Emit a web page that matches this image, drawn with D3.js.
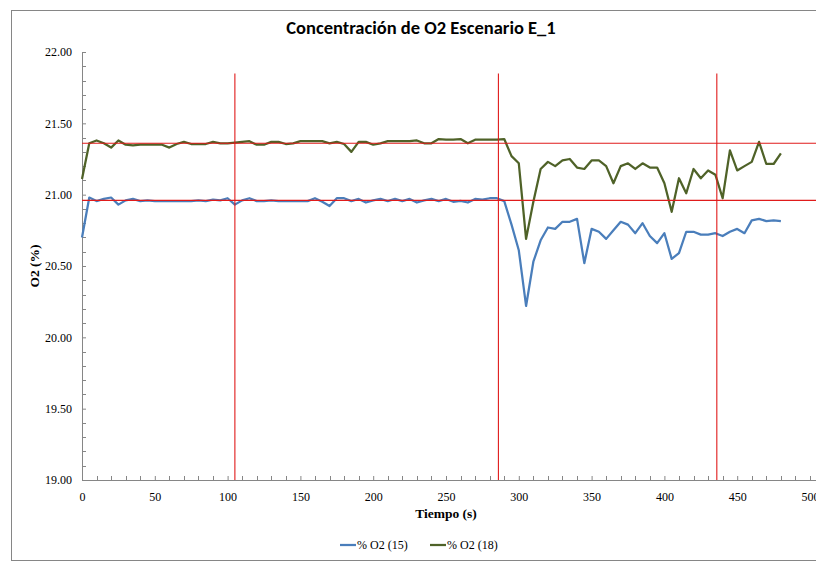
<!DOCTYPE html>
<html>
<head>
<meta charset="utf-8">
<script src="https://cdn.jsdelivr.net/npm/d3@7"></script>
<style>
  html, body { margin: 0; padding: 0; background: #fff; }
  svg { display: block; }
</style>
</head>
<body>
<svg id="chart" width="816" height="562"></svg>
<script>
// ---------- data ----------
const times = [0,5,10,15,20,25,30,35,40,45,50,55,60,65,70,75,80,85,90,95,
  100,105,110,115,120,125,130,135,140,145,150,155,160,165,170,175,180,185,190,195,
  200,205,210,215,220,225,230,235,240,245,250,255,260,265,270,275,280,285,290,295,
  300,305,310,315,320,325,330,335,340,345,350,355,360,365,370,375,380,385,390,395,
  400,405,410,415,420,425,430,435,440,445,450,455,460,465,470,475,480];

const o2_15 = [20.70,20.98,20.955,20.97,20.98,20.93,20.96,20.97,20.955,20.96,
  20.955,20.955,20.955,20.955,20.955,20.955,20.96,20.955,20.965,20.96,
  20.975,20.93,20.96,20.975,20.955,20.955,20.96,20.955,20.955,20.955,
  20.955,20.955,20.975,20.95,20.92,20.975,20.975,20.955,20.97,20.945,
  20.96,20.97,20.955,20.97,20.955,20.97,20.945,20.96,20.97,20.955,
  20.97,20.95,20.956,20.945,20.97,20.965,20.975,20.975,20.955,20.79,
  20.61,20.22,20.53,20.68,20.77,20.76,20.81,20.81,20.83,20.52,
  20.76,20.74,20.69,20.75,20.81,20.79,20.73,20.80,20.71,20.66,
  20.73,20.55,20.59,20.74,20.74,20.72,20.72,20.73,20.71,20.74,
  20.76,20.73,20.82,20.83,20.815,20.82,20.815];

const o2_18 = [21.11,21.36,21.38,21.36,21.33,21.38,21.35,21.345,21.35,21.35,
  21.35,21.35,21.33,21.355,21.37,21.355,21.355,21.355,21.37,21.36,
  21.36,21.365,21.37,21.375,21.35,21.35,21.37,21.37,21.355,21.36,
  21.375,21.375,21.375,21.375,21.36,21.37,21.355,21.30,21.37,21.37,
  21.35,21.36,21.375,21.375,21.375,21.375,21.38,21.36,21.36,21.39,
  21.385,21.385,21.39,21.36,21.385,21.385,21.385,21.385,21.39,21.27,
  21.22,20.69,20.95,21.18,21.23,21.20,21.24,21.25,21.19,21.18,
  21.24,21.24,21.20,21.08,21.20,21.22,21.18,21.22,21.19,21.19,
  21.08,20.88,21.115,21.01,21.18,21.115,21.17,21.14,20.975,21.31,
  21.17,21.20,21.23,21.37,21.215,21.215,21.29];

const seriesNames = ["% O2 (15)", "% O2 (18)"];
const seriesColors = ["#4A7EBB", "#4F6228"];

const refLevels = [21.36, 20.96];      // horizontal red reference lines
const refTimes = [105, 286, 436];      // vertical red reference lines
const refTimeTop = 21.85;              // top of vertical reference lines

const xTickValues = [0,50,100,150,200,250,300,350,400,450,500];
const yTickValues = [19.0,19.5,20.0,20.5,21.0,21.5,22.0];

const titleText = "Concentración de O2 Escenario E_1";
const xTitle = "Tiempo (s)";
const yTitle = "O2 (%)";

// ---------- layout ----------
const svg = d3.select("#chart");
const plot = { left: 82, top: 52, bottom: 480 };
const xMax = 505;
const x = d3.scaleLinear().domain([0, xMax]).range([plot.left, plot.left + xMax * 1.456]);
const y = d3.scaleLinear().domain([19, 22]).range([plot.bottom, plot.top]);
const axisColor = "#868686";
const serif = "'Liberation Serif', 'Times New Roman', serif";

// outer chart border
svg.append("rect")
  .attr("x", 11.5).attr("y", 10.5)
  .attr("width", 830).attr("height", 550)
  .attr("fill", "none").attr("stroke", axisColor).attr("stroke-width", 1);

// title
svg.append("text")
  .attr("x", 421).attr("y", 34)
  .attr("text-anchor", "middle")
  .attr("font-family", "Carlito, Calibri, 'Liberation Sans', Arial, sans-serif")
  .attr("font-weight", "bold")
  .attr("font-size", 18.5)
  .attr("fill", "#000")
  .text(titleText);

// minor ticks
const minorX = d3.range(0, 501, 10).filter(v => v % 50 !== 0);
const minorY = d3.range(19, 22.0001, 0.1).filter(v => Math.abs(v * 2 - Math.round(v * 2)) > 1e-6);

svg.append("g").selectAll("line").data(minorX).join("line")
  .attr("x1", d => Math.round(x(d)) + 0.5).attr("x2", d => Math.round(x(d)) + 0.5)
  .attr("y1", plot.bottom).attr("y2", plot.bottom - 4)
  .attr("stroke", axisColor);
svg.append("g").selectAll("line").data(minorY).join("line")
  .attr("y1", d => Math.round(y(d)) + 0.5).attr("y2", d => Math.round(y(d)) + 0.5)
  .attr("x1", plot.left).attr("x2", plot.left + 4)
  .attr("stroke", axisColor);

// axes
const xAxis = d3.axisBottom(x).tickValues(xTickValues).tickFormat(d3.format("d"))
  .tickSizeInner(-4).tickSizeOuter(0).tickPadding(12);
const gx = svg.append("g").attr("transform", `translate(0,${plot.bottom})`).call(xAxis);

const yAxis = d3.axisLeft(y).tickValues(yTickValues).tickFormat(d3.format(".2f"))
  .tickSizeInner(-4).tickSizeOuter(0).tickPadding(10);
const gy = svg.append("g").attr("transform", `translate(${plot.left},0)`).call(yAxis);

[gx, gy].forEach(g => {
  g.select(".domain").attr("stroke", axisColor);
  g.selectAll(".tick line").attr("stroke", axisColor);
  g.selectAll(".tick text").attr("font-family", serif).attr("font-size", 12).attr("fill", "#000");
});

// axis titles
svg.append("text")
  .attr("x", 446).attr("y", 518)
  .attr("text-anchor", "middle")
  .attr("font-family", serif).attr("font-weight", "bold").attr("font-size", 13.5)
  .text(xTitle);
svg.append("text")
  .attr("transform", `translate(39,${(plot.top + plot.bottom) / 2}) rotate(-90)`)
  .attr("text-anchor", "middle")
  .attr("font-family", serif).attr("font-weight", "bold").attr("font-size", 13.5)
  .text(yTitle);

// series
const series = [o2_15, o2_18];
const line = d3.line().x(d => x(d[0])).y(d => y(d[1]));
series.forEach((vals, k) => {
  svg.append("path")
    .datum(times.map((t, i) => [t, vals[i]]))
    .attr("d", line)
    .attr("fill", "none")
    .attr("stroke", seriesColors[k])
    .attr("stroke-width", 2.25)
    .attr("stroke-linejoin", "round");
});

// red reference lines
const red = "#E01B1B";
svg.append("g").selectAll("line").data(refLevels).join("line")
  .attr("x1", x(0)).attr("x2", x(xMax))
  .attr("y1", d => y(d)).attr("y2", d => y(d))
  .attr("stroke", red).attr("stroke-width", 1.1);
svg.append("g").selectAll("line").data(refTimes).join("line")
  .attr("x1", d => x(d)).attr("x2", d => x(d))
  .attr("y1", y(19)).attr("y2", y(refTimeTop))
  .attr("stroke", red).attr("stroke-width", 1.1);

// legend
const legend = svg.append("g").attr("transform", "translate(340,545)");
const legendX = [0, 90];
seriesNames.forEach((name, k) => {
  const g = legend.append("g").attr("transform", `translate(${legendX[k]},0)`);
  g.append("line").attr("x1", 0).attr("x2", 16).attr("y1", 0).attr("y2", 0)
    .attr("stroke", seriesColors[k]).attr("stroke-width", 2.25);
  g.append("text").attr("x", 17).attr("y", 4)
    .attr("font-family", serif).attr("font-size", 12)
    .text(name);
});
</script>
</body>
</html>
